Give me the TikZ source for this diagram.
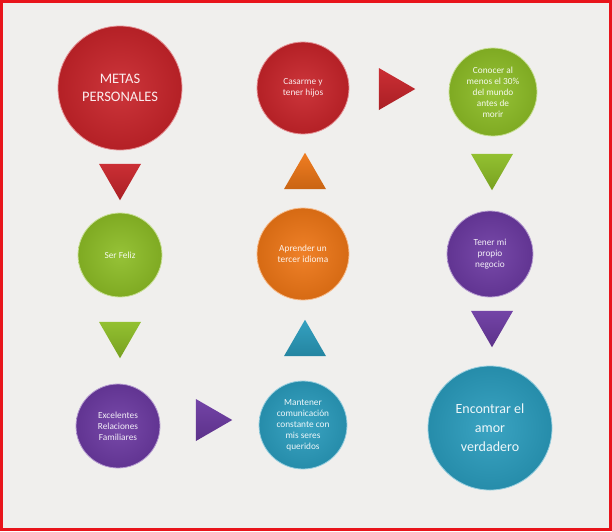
\documentclass[tikz,border=0pt]{standalone}
\usepackage{fontspec}
\setmainfont{Carlito}
\usetikzlibrary{shapes.geometric}
\definecolor{metared}{HTML}{C8242A}
\definecolor{metagreen}{HTML}{8DBD26}
\definecolor{metaorange}{HTML}{EE7616}
\definecolor{metapurple}{HTML}{6C3AA2}
\definecolor{metateal}{HTML}{2A9CBD}
\definecolor{pagebg}{HTML}{F0EFED}
\definecolor{framered}{HTML}{E8141B}

\begin{document}
\begin{tikzpicture}[x=1pt,y=-1pt,
  goal/.style={circle, inner sep=0pt, align=center, text=#1!8!white, font=\fontsize{9.3}{11}\selectfont,
    inner color=#1!92!white, outer color=#1!90!black, draw=#1!50!white, line width=0.8pt},
  big/.style={font=\fontsize{14.5}{17.5}\selectfont},
  tri/.style={regular polygon, regular polygon sides=3, minimum size=48.5pt, inner sep=0pt,
    top color=#1!95!white, bottom color=#1!85!black}]
\useasboundingbox (0,0) rectangle (612,531);
\fill[pagebg] (0,0) rectangle (612,531);
\draw[framered, line width=3pt] (1.5,1.5) rectangle (610.5,529.5);

% metas
\node[goal=metared, big, minimum size=124pt] (metas) at (120,88) {METAS\\PERSONALES};
\node[goal=metagreen, minimum size=84pt] (feliz) at (120,255) {Ser Feliz};
\node[goal=metapurple, minimum size=84pt] (familia) at (118,426) {Excelentes\\Relaciones\\Familiares};
\node[goal=metateal, minimum size=88pt] (comunica) at (303,425) {Mantener\\comunicación\\constante con\\mis seres\\queridos};
\node[goal=metaorange, minimum size=92pt] (idioma) at (303,254) {Aprender un\\tercer idioma};
\node[goal=metared, minimum size=92pt] (casarse) at (303,88) {Casarme y\\tener hijos};
\node[goal=metagreen, minimum size=88pt] (viajar) at (493,92) {Conocer al\\menos el 30\%\\del mundo\\antes de\\morir};
\node[goal=metapurple, minimum size=86pt] (negocio) at (490,254) {Tener mi\\propio\\negocio};
\node[goal=metateal, big, font=\fontsize{14}{19}\selectfont, minimum size=124pt] (amor) at (490,428) {Encontrar el\\amor\\verdadero};

% flechas
\node[tri=metared, shape border rotate=180] (t1) at (120,176) {};
\node[tri=metagreen, shape border rotate=180] (t2) at (120,334) {};
\node[tri=metapurple, shape border rotate=-90] (t3) at (208,420) {};
\node[tri=metateal] (t4) at (305,344) {};
\node[tri=metaorange] (t5) at (305,177) {};
\node[tri=metared, shape border rotate=-90] (t6) at (391,89) {};
\node[tri=metagreen, shape border rotate=180] (t7) at (492,166) {};
\node[tri=metapurple, shape border rotate=180] (t8) at (492,323) {};
\end{tikzpicture}
\end{document}
